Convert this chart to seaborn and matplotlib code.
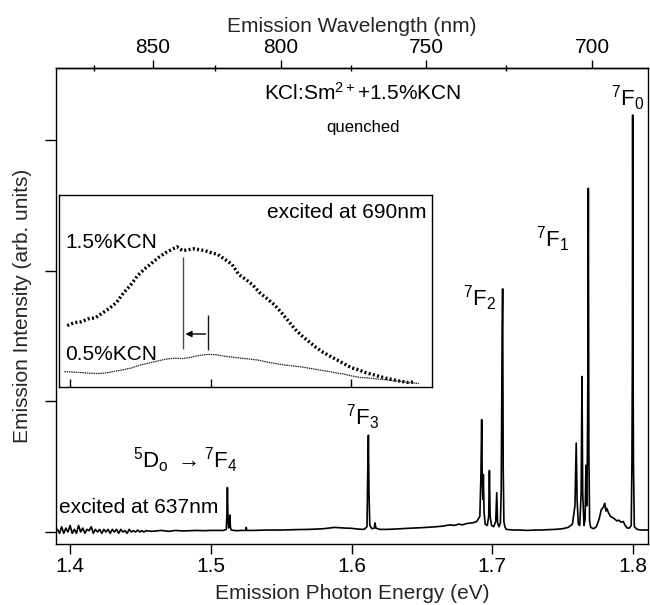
import matplotlib
matplotlib.use("Agg")
import matplotlib.pyplot as plt
import numpy as np
import pandas as pd
import seaborn as sns

# ---- main emission spectrum (excited at 637 nm) ----
# noisy low-energy tail
tail_ev = [1.3910, 1.3925, 1.3940, 1.3955, 1.3970, 1.3985, 1.4000, 1.4015, 1.4030, 1.4045,
           1.4060, 1.4075, 1.4090, 1.4105, 1.4120, 1.4135, 1.4150, 1.4165, 1.4180, 1.4195,
           1.4210, 1.4225, 1.4240, 1.4255, 1.4270, 1.4285, 1.4300, 1.4315, 1.4330, 1.4345,
           1.4360, 1.4375, 1.4390, 1.4405, 1.4420, 1.4435, 1.4450, 1.4465, 1.4480, 1.4495,
           1.4510, 1.4525, 1.4540]
tail_int = [0.02, -0.01, 0.04, -0.01, 0.03, 0.00, 0.05, -0.01, 0.02, -0.01,
            0.05, 0.00, 0.03, -0.01, 0.02, 0.01, 0.04, -0.01, 0.02, 0.00,
            0.02, -0.01, 0.02, 0.00, 0.02, -0.01, 0.02, 0.00, 0.02, -0.01,
            0.02, 0.00, 0.01, -0.01, 0.02, 0.00, 0.01, 0.00, 0.015, 0.00,
            0.01, 0.00, 0.01]

# 7F4 .. 7F0 line region
lines_ev = [1.4580, 1.4650, 1.4700, 1.4750, 1.4800, 1.4850, 1.4900, 1.4950, 1.5000, 1.5050,
            1.5090, 1.5110, 1.5114, 1.5118, 1.5122, 1.5127, 1.5131, 1.5135, 1.5139, 1.5145,
            1.5180, 1.5220, 1.5248, 1.5252, 1.5256, 1.5300, 1.5400, 1.5500, 1.5600, 1.5700,
            1.5800, 1.5880, 1.5950, 1.6000, 1.6050, 1.6090, 1.6110, 1.6115, 1.6120, 1.6124,
            1.6130, 1.6145, 1.6162, 1.6167, 1.6173, 1.6200, 1.6250, 1.6300, 1.6400, 1.6500,
            1.6600, 1.6650, 1.6700, 1.6730, 1.6760, 1.6790, 1.6820, 1.6860, 1.6890, 1.6912,
            1.6920, 1.6925, 1.6929, 1.6933, 1.6937, 1.6942, 1.6950, 1.6965, 1.6975, 1.6980,
            1.6985, 1.6995, 1.7010, 1.7025, 1.7032, 1.7038, 1.7048, 1.7058, 1.7064, 1.7070,
            1.7074, 1.7078, 1.7083, 1.7090, 1.7100, 1.7150, 1.7200, 1.7250, 1.7300, 1.7350,
            1.7400, 1.7450, 1.7500, 1.7540, 1.7570, 1.7588, 1.7597, 1.7603, 1.7612, 1.7622,
            1.7632, 1.7638, 1.7643, 1.7652, 1.7660, 1.7666, 1.7671, 1.7676, 1.7680, 1.7683,
            1.7687, 1.7692, 1.7700, 1.7720, 1.7740, 1.7760, 1.7775, 1.7790, 1.7800, 1.7808,
            1.7815, 1.7825, 1.7840, 1.7855, 1.7870, 1.7885, 1.7900, 1.7915, 1.7931, 1.7945,
            1.7960, 1.7975, 1.7988, 1.7993, 1.7996, 1.7998, 1.8001, 1.8004, 1.8010, 1.8030,
            1.8060, 1.8090, 1.8107]
lines_int = [0.005, 0.012, 0.005, 0.012, 0.008, 0.010, 0.012, 0.010, 0.012, 0.012,
             0.012, 0.020, 0.120, 0.340, 0.100, 0.030, 0.060, 0.130, 0.040, 0.015,
             0.010, 0.012, 0.012, 0.035, 0.012, 0.012, 0.015, 0.015, 0.018, 0.020,
             0.025, 0.035, 0.030, 0.028, 0.022, 0.020, 0.040, 0.440, 0.740, 0.300,
             0.050, 0.025, 0.030, 0.070, 0.030, 0.020, 0.020, 0.022, 0.028, 0.033,
             0.040, 0.045, 0.055, 0.050, 0.060, 0.055, 0.065, 0.070, 0.080, 0.120,
             0.450, 0.860, 0.400, 0.250, 0.440, 0.150, 0.060, 0.050, 0.120, 0.470,
             0.120, 0.050, 0.040, 0.080, 0.300, 0.070, 0.040, 0.070, 0.320, 1.450,
             1.860, 0.500, 0.080, 0.040, 0.020, 0.015, 0.015, 0.012, 0.015, 0.015,
             0.018, 0.020, 0.025, 0.035, 0.060, 0.200, 0.680, 0.250, 0.060, 0.050,
             0.300, 1.190, 0.300, 0.050, 0.100, 0.510, 0.200, 0.550, 1.220, 2.630,
             0.600, 0.080, 0.035, 0.025, 0.040, 0.100, 0.170, 0.190, 0.220, 0.160,
             0.180, 0.150, 0.120, 0.110, 0.100, 0.085, 0.090, 0.075, 0.080, 0.050,
             0.030, 0.030, 0.050, 0.550, 1.300, 3.190, 1.300, 0.500, 0.040, 0.020,
             0.015, 0.015, 0.015]

# ---- inset: broad band excited at 690 nm ----
kcn15_ev = [1.398, 1.403, 1.408, 1.413, 1.418, 1.423, 1.428, 1.433, 1.438, 1.443,
            1.448, 1.453, 1.458, 1.463, 1.468, 1.472, 1.476, 1.480, 1.484, 1.488,
            1.492, 1.496, 1.500, 1.505, 1.510, 1.515, 1.520, 1.525, 1.530, 1.535,
            1.540, 1.545, 1.550, 1.555, 1.560, 1.565, 1.570, 1.575, 1.580, 1.585,
            1.590, 1.595, 1.600, 1.605, 1.610, 1.615, 1.620, 1.625, 1.630, 1.635,
            1.640, 1.645]
kcn15_int = [0.320, 0.335, 0.340, 0.355, 0.360, 0.385, 0.410, 0.440, 0.490, 0.530,
             0.580, 0.615, 0.645, 0.675, 0.700, 0.715, 0.730, 0.710, 0.715, 0.720,
             0.715, 0.710, 0.700, 0.690, 0.665, 0.640, 0.585, 0.560, 0.530, 0.490,
             0.460, 0.430, 0.390, 0.345, 0.300, 0.265, 0.235, 0.205, 0.180, 0.160,
             0.140, 0.120, 0.100, 0.090, 0.075, 0.065, 0.055, 0.045, 0.037, 0.030,
             0.024, 0.027]

kcn05_ev = [1.396, 1.402, 1.408, 1.414, 1.420, 1.426, 1.432, 1.438, 1.444, 1.450,
            1.456, 1.462, 1.468, 1.474, 1.480, 1.486, 1.492, 1.498, 1.504, 1.510,
            1.516, 1.522, 1.528, 1.534, 1.540, 1.546, 1.552, 1.558, 1.564, 1.570,
            1.576, 1.582, 1.588, 1.594, 1.600, 1.606, 1.612, 1.618, 1.624, 1.630,
            1.636, 1.642, 1.648]
kcn05_int = [0.080, 0.078, 0.075, 0.072, 0.070, 0.074, 0.082, 0.090, 0.100, 0.115,
             0.125, 0.135, 0.145, 0.150, 0.148, 0.155, 0.165, 0.170, 0.168, 0.160,
             0.155, 0.150, 0.145, 0.140, 0.130, 0.122, 0.115, 0.110, 0.105, 0.098,
             0.090, 0.083, 0.075, 0.068, 0.058, 0.050, 0.047, 0.042, 0.038, 0.033,
             0.028, 0.022, 0.018]

# peak maxima of the two bands (eV)
band_peak_15 = 1.4805
band_peak_05 = 1.4978

energy_ticks = [1.4, 1.5, 1.6, 1.7, 1.8]
energy_ticklabels = ["1.4", "1.5", "1.6", "1.7", "1.8"]
wavelength_ticks = [700, 750, 800, 850]
wavelength_minor = [725, 775, 825, 875]

spectrum = pd.DataFrame({"energy": tail_ev + lines_ev,
                         "intensity": tail_int + lines_int})
band15 = pd.DataFrame({"energy": kcn15_ev, "intensity": kcn15_int})
band05 = pd.DataFrame({"energy": kcn05_ev, "intensity": kcn05_int})

sns.set_theme(style="ticks")
plt.rcParams["font.family"] = ["Liberation Sans", "DejaVu Sans"]
plt.rcParams["mathtext.fontset"] = "custom"
plt.rcParams["mathtext.rm"] = "Liberation Sans"
plt.rcParams["mathtext.it"] = "Liberation Sans:italic"
plt.rcParams["mathtext.bf"] = "Liberation Sans:bold"
plt.rcParams["axes.linewidth"] = 1.0
plt.rcParams["axes.edgecolor"] = "black"
plt.rcParams["text.color"] = "black"
plt.rcParams["xtick.color"] = "black"
plt.rcParams["ytick.color"] = "black"

FS = 15

fig = plt.figure(figsize=(6.5, 6.05), dpi=100)
ax = fig.add_axes([0.0862, 0.1008, 0.9107, 0.7868])

sns.lineplot(data=spectrum, x="energy", y="intensity", ax=ax, color="black",
             linewidth=1.2, estimator=None)

ax.set_xlim(1.3900, 1.8107)
ax.set_ylim(-0.092, 3.55)
ax.set_xticks(energy_ticks)
ax.set_xticklabels(energy_ticklabels)
ax.set_yticks([0, 1, 2, 3])
ax.tick_params(axis="y", direction="out", length=8, width=1.0, labelleft=False)
ax.tick_params(axis="x", direction="out", length=7, width=1.0, labelsize=FS, pad=2)
ax.set_xlabel("Emission Photon Energy (eV)", fontsize=FS)
ax.set_ylabel("Emission Intensity (arb. units)", fontsize=FS)
ax.xaxis.set_label_coords(0.5, -0.085)
ax.yaxis.set_label_coords(-0.040, 0.5)
for s in ax.spines.values():
    s.set_visible(True)
    s.set_linewidth(1.0)

# wavelength scale on top
top = ax.secondary_xaxis("top", functions=(lambda e: 1239.84 / e,
                                           lambda w: 1239.84 / w))
top.set_xticks(wavelength_ticks)
top.set_xticks(wavelength_minor, minor=True)
top.tick_params(which="major", direction="out", length=6, width=1.0,
                labelsize=FS, pad=2)
top.tick_params(which="minor", direction="inout", length=5, width=1.0)
top.set_xlabel("Emission Wavelength (nm)", fontsize=FS, labelpad=4)

# transition labels
LF = FS + 1
ax.text(1.7965, 3.26, r"$^{7}$F$_{0}$", fontsize=LF, ha="center", va="baseline")
ax.text(1.7432, 2.18, r"$^{7}$F$_{1}$", fontsize=LF, ha="center", va="baseline")
ax.text(1.6913, 1.73, r"$^{7}$F$_{2}$", fontsize=LF, ha="center", va="baseline")
ax.text(1.6082, 0.82, r"$^{7}$F$_{3}$", fontsize=LF, ha="center", va="baseline")
ax.text(1.5187, 0.49, r"$^{5}$D$_{\mathrm{o}}$ $\rightarrow$$^{7}$F$_{4}$",
        fontsize=LF, ha="right", va="baseline")
ax.text(1.3924, 0.148, "excited at 637nm", fontsize=FS, ha="left", va="baseline")
ax.text(1.6082, 3.305, r"KCl:Sm$^{2+}$+1.5%KCN", fontsize=FS, ha="center", va="baseline")
ax.text(1.6082, 3.06, "quenched", fontsize=FS - 3, ha="center", va="baseline")

# ---- inset ----
ins = fig.add_axes([0.0908, 0.3603, 0.5738, 0.3174])
ins.set_facecolor("white")
sns.lineplot(data=band15, x="energy", y="intensity", ax=ins, color="black",
             linewidth=2.4, estimator=None, linestyle=(0, (0.6, 0.7)))
sns.lineplot(data=band05, x="energy", y="intensity", ax=ins, color="0.15",
             linewidth=0.9, estimator=None, linestyle=(0, (1.2, 0.6)))
ins.set_xlim(1.39218, 1.65720)
ins.set_ylim(0, 1)
ins.set_xticks([1.4, 1.5, 1.6])
ins.set_yticks([])
ins.tick_params(axis="x", direction="in", length=6, width=1.0, labelbottom=False)
ins.set_xlabel("")
ins.set_ylabel("")
for s in ins.spines.values():
    s.set_visible(True)
    s.set_linewidth(1.0)

ins.vlines(band_peak_15, 0.196, 0.675, color="0.3", linewidth=1.0)
ins.vlines(band_peak_05, 0.193, 0.375, color="0.1", linewidth=1.0)
ins.annotate("", xy=(band_peak_15 + 0.0015, 0.276), xytext=(band_peak_05 - 0.0015, 0.276),
             arrowprops=dict(arrowstyle="-|>", color="black", lw=1.0,
                             mutation_scale=9, shrinkA=0, shrinkB=0))
ins.text(1.3964, 0.722, "1.5%KCN", fontsize=FS, ha="left", va="baseline")
ins.text(1.3964, 0.140, "0.5%KCN", fontsize=FS, ha="left", va="baseline")
ins.text(1.6535, 0.879, "excited at 690nm", fontsize=FS, ha="right", va="baseline")

fig.savefig("out.png", dpi=100)
